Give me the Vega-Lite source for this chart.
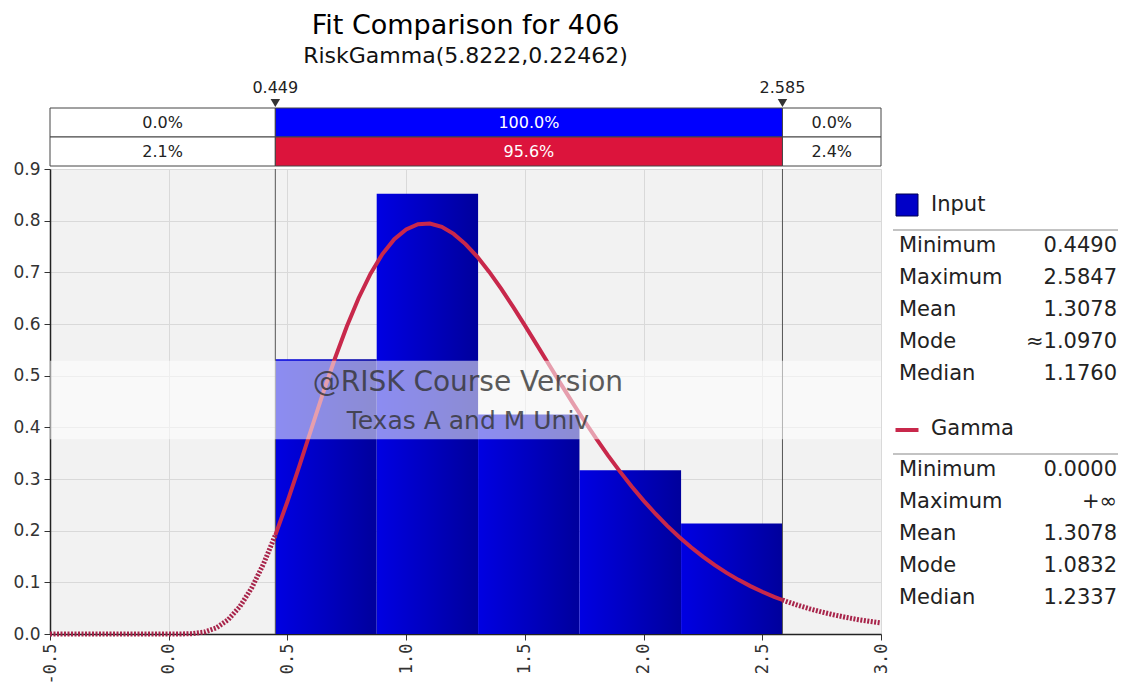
{
  "$schema": "https://vega.github.io/schema/vega-lite/v6.json",
  "width": 831,
  "height": 465,
  "autosize": "none",
  "padding": {"left": 50, "top": 169, "right": 244, "bottom": 54},
  "background": "white",
  "title": {
    "text": "Fit Comparison for 406",
    "subtitle": "RiskGamma(5.8222,0.22462)",
    "font": "DejaVu Sans",
    "fontSize": 27,
    "fontWeight": "normal",
    "color": "#000000",
    "subtitleFont": "DejaVu Sans",
    "subtitleFontSize": 22,
    "subtitleColor": "#111111",
    "subtitlePadding": 6,
    "anchor": "middle",
    "frame": "group",
    "offset": 12
  },
  "config": {
    "view": {"fill": "#f2f2f2", "stroke": null}
  },
  "layer": [
    {
      "layer": [
        {
          "data": {"values": [
            {"bin_start": 0.449, "bin_end": 0.876, "density": 0.532},
            {"bin_start": 0.876, "bin_end": 1.303, "density": 0.852},
            {"bin_start": 1.303, "bin_end": 1.730, "density": 0.425},
            {"bin_start": 1.730, "bin_end": 2.158, "density": 0.317},
            {"bin_start": 2.158, "bin_end": 2.585, "density": 0.214}
          ]},
          "mark": {
            "type": "rect",
            "fill": {
              "gradient": "linear", "x1": 0, "y1": 0, "x2": 1, "y2": 0,
              "stops": [
                {"offset": 0, "color": "#0000e2"},
                {"offset": 0.5, "color": "#0000c0"},
                {"offset": 1, "color": "#00009c"}
              ]
            }
          },
          "encoding": {
            "x": {
              "field": "bin_start", "type": "quantitative",
              "scale": {"domain": [-0.5, 3], "nice": false, "zero": false},
              "axis": {
                "values": [-0.5, 0, 0.5, 1, 1.5, 2, 2.5, 3],
                "format": ".1f",
                "labelExpr": "replace(datum.label, '\u2212', '-')",
                "labelAngle": 270,
                "labelFont": "DejaVu Sans Mono",
                "labelFontSize": 17,
                "labelColor": "#333333",
                "labelFlush": false,
                "labelOverlap": false,
                "labelPadding": 3,
                "tickColor": "#333333",
                "tickSize": 6,
                "domainColor": "#222222",
                "domainWidth": 1.5,
                "gridColor": "#d9d9d9",
                "title": null
              }
            },
            "x2": {"field": "bin_end"},
            "y": {
              "field": "density", "type": "quantitative",
              "scale": {"domain": [0, 0.9], "nice": false},
              "axis": {
                "values": [0, 0.1, 0.2, 0.3, 0.4, 0.5, 0.6, 0.7, 0.8, 0.9],
                "format": ".1f",
                "labelFont": "DejaVu Sans",
                "labelFontSize": 17,
                "labelColor": "#333333",
                "labelFlush": false,
                "labelOverlap": false,
                "labelPadding": 4,
                "tickColor": "#333333",
                "tickSize": 6,
                "domainColor": "#222222",
                "domainWidth": 1.5,
                "gridColor": "#d9d9d9",
                "title": null
              }
            },
            "y2": {"datum": 0}
          }
        },
        {
          "data": {"values": [
            {"value": 0.449, "label": "0.449"},
            {"value": 2.585, "label": "2.585"}
          ]},
          "mark": {"type": "rule", "color": "#555555", "strokeWidth": 1},
          "encoding": {
            "x": {"field": "value", "type": "quantitative"},
            "y": {"datum": 0, "type": "quantitative"},
            "y2": {"datum": 0.9}
          }
        },
        {
          "data": {"name": "curve"},
          "transform": [{"filter": "datum.part !== 'mid'"}],
          "mark": {"type": "line", "color": "#a8244a", "strokeWidth": 5, "strokeDash": [2, 1.5]},
          "encoding": {
            "x": {"field": "x", "type": "quantitative"},
            "y": {"field": "density", "type": "quantitative"},
            "detail": {"field": "part"}
          }
        },
        {
          "data": {"name": "curve"},
          "transform": [{"filter": "datum.part === 'mid'"}],
          "mark": {"type": "line", "color": "#c8284b", "strokeWidth": 4},
          "encoding": {
            "x": {"field": "x", "type": "quantitative"},
            "y": {"field": "density", "type": "quantitative"}
          }
        },
        {
          "data": {"values": [{}]},
          "mark": {"type": "rect", "fill": "#ffffff", "opacity": 0.55},
          "encoding": {
            "x": {"datum": -0.5, "type": "quantitative"},
            "x2": {"datum": 3},
            "y": {"datum": 0.377, "type": "quantitative"},
            "y2": {"datum": 0.529}
          }
        },
        {
          "data": {"values": [{}]},
          "mark": {"type": "text", "text": "@RISK Course Version", "font": "DejaVu Sans", "fontSize": 28, "color": "#333333", "opacity": 0.8},
          "encoding": {
            "x": {"datum": 1.26, "type": "quantitative"},
            "y": {"datum": 0.486, "type": "quantitative"}
          }
        },
        {
          "data": {"values": [{}]},
          "mark": {"type": "text", "text": "Texas A and M Univ", "font": "DejaVu Sans", "fontSize": 25, "color": "#333333", "opacity": 0.8},
          "encoding": {
            "x": {"datum": 1.26, "type": "quantitative"},
            "y": {"datum": 0.412, "type": "quantitative"}
          }
        }
      ]
    },
    {
      "layer": [
        {
          "data": {"name": "cells"},
          "mark": {"type": "rect", "stroke": "#444444", "strokeWidth": 1},
          "encoding": {
            "x": {"field": "start", "type": "quantitative", "scale": {"domain": [-0.5, 3], "nice": false, "zero": false}, "axis": null},
            "x2": {"field": "end"},
            "y": {"field": "row", "type": "nominal", "scale": {"type": "band", "domain": ["Input", "Fit"], "range": [-61, -3], "paddingInner": 0, "paddingOuter": 0}, "axis": null},
            "fill": {"field": "kind", "type": "nominal", "scale": {"domain": ["outside", "Input", "Fit"], "range": ["#ffffff", "#0000ff", "#dc143c"]}, "legend": null}
          }
        },
        {
          "data": {"name": "cells"},
          "transform": [{"fold": ["start", "end"], "as": ["edge", "pos"]}],
          "mark": {"type": "text", "font": "DejaVu Sans", "fontSize": 16},
          "encoding": {
            "x": {"aggregate": "mean", "field": "pos", "type": "quantitative"},
            "y": {"field": "row", "type": "nominal"},
            "text": {"field": "label"},
            "detail": [{"field": "kind"}, {"field": "side"}],
            "color": {"condition": {"test": "datum.kind !== 'outside'", "value": "#ffffff"}, "value": "#222222"}
          }
        },
        {
          "data": {"values": [
            {"value": 0.449, "label": "0.449"},
            {"value": 2.585, "label": "2.585"}
          ]},
          "mark": {"type": "text", "font": "DejaVu Sans", "fontSize": 16, "color": "#222222", "dy": -34.5},
          "encoding": {
            "x": {"field": "value", "type": "quantitative"},
            "y": {"datum": "Input", "type": "nominal"},
            "text": {"field": "label"}
          }
        },
        {
          "data": {"values": [
            {"value": 0.449, "label": "0.449"},
            {"value": 2.585, "label": "2.585"}
          ]},
          "mark": {"type": "point", "shape": "triangle-down", "filled": true, "color": "#333333", "size": 90, "opacity": 1, "yOffset": -19.5},
          "encoding": {
            "x": {"field": "value", "type": "quantitative"},
            "y": {"datum": "Input", "type": "nominal"}
          }
        }
      ]
    },
    {
      "layer": [
        {
          "data": {"values": [
            {"key": "Input", "name": "Input"},
            {"key": "Gamma", "name": "Gamma"}
          ]},
          "mark": {"type": "text", "align": "left", "dx": 32, "dy": -9, "font": "DejaVu Sans", "fontSize": 21, "color": "#222222"},
          "encoding": {
            "x": {"datum": 0, "type": "quantitative", "scale": {"domain": [0, 1], "range": [849, 1067]}, "axis": null},
            "y": {"field": "key", "type": "nominal", "scale": {"type": "point", "domain": ["Input", "I-Min", "I-Max", "I-Mean", "I-Mode", "I-Median", "gap", "Gamma", "G-Min", "G-Max", "G-Mean", "G-Mode", "G-Median"], "range": [45, 429], "padding": 0}, "axis": null},
            "text": {"field": "name"}
          }
        },
        {
          "data": {"values": [{"key": "Input"}]},
          "mark": {"type": "point", "shape": "square", "filled": true, "fill": "#0000c8", "stroke": "#000050", "strokeWidth": 1, "size": 484, "opacity": 1, "xOffset": 8, "yOffset": -9},
          "encoding": {
            "x": {"datum": 0, "type": "quantitative"},
            "y": {"field": "key", "type": "nominal"}
          }
        },
        {
          "data": {"values": [{"key": "Gamma"}]},
          "mark": {"type": "point", "shape": "M-1,0H1", "filled": false, "stroke": "#c8284b", "strokeWidth": 4, "size": 529, "opacity": 1, "xOffset": 8, "yOffset": -8},
          "encoding": {
            "x": {"datum": 0, "type": "quantitative"},
            "y": {"field": "key", "type": "nominal"}
          }
        },
        {
          "data": {"values": [{"key": "I-Min"}, {"key": "G-Min"}]},
          "mark": {"type": "rule", "color": "#888888", "strokeWidth": 1.2, "yOffset": -16, "xOffset": -6, "x2Offset": 1},
          "encoding": {
            "x": {"datum": 0, "type": "quantitative"},
            "x2": {"datum": 1},
            "y": {"field": "key", "type": "nominal"}
          }
        },
        {
          "data": {"name": "stats"},
          "mark": {"type": "text", "align": "left", "font": "DejaVu Sans", "fontSize": 21, "color": "#222222"},
          "encoding": {
            "x": {"datum": 0, "type": "quantitative"},
            "y": {"field": "key", "type": "nominal"},
            "text": {"field": "stat"}
          }
        },
        {
          "data": {"name": "stats"},
          "mark": {"type": "text", "align": "right", "font": "DejaVu Sans", "fontSize": 21, "color": "#222222"},
          "encoding": {
            "x": {"datum": 1, "type": "quantitative"},
            "y": {"field": "key", "type": "nominal"},
            "text": {"field": "value"}
          }
        }
      ]
    }
  ],
  "resolve": {
    "scale": {"x": "independent", "y": "independent", "fill": "independent", "color": "independent"},
    "axis": {"x": "independent", "y": "independent"}
  },
  "datasets": {
    "curve": [
      {"x": -0.5, "density": 0, "part": "left"},
      {"x": 0, "density": 0, "part": "left"},
      {"x": 0.05, "density": 0.00003, "part": "left"},
      {"x": 0.1, "density": 0.00065, "part": "left"},
      {"x": 0.15, "density": 0.0037, "part": "left"},
      {"x": 0.2, "density": 0.0118, "part": "left"},
      {"x": 0.25, "density": 0.0276, "part": "left"},
      {"x": 0.3, "density": 0.0532, "part": "left"},
      {"x": 0.35, "density": 0.0896, "part": "left"},
      {"x": 0.4, "density": 0.1365, "part": "left"},
      {"x": 0.449, "density": 0.1915, "part": "left"},
      {"x": 0.449, "density": 0.1915, "part": "mid"},
      {"x": 0.5, "density": 0.2564, "part": "mid"},
      {"x": 0.55, "density": 0.325, "part": "mid"},
      {"x": 0.6, "density": 0.3958, "part": "mid"},
      {"x": 0.65, "density": 0.466, "part": "mid"},
      {"x": 0.7, "density": 0.5332, "part": "mid"},
      {"x": 0.75, "density": 0.5952, "part": "mid"},
      {"x": 0.8, "density": 0.6504, "part": "mid"},
      {"x": 0.85, "density": 0.6974, "part": "mid"},
      {"x": 0.9, "density": 0.7354, "part": "mid"},
      {"x": 0.95, "density": 0.764, "part": "mid"},
      {"x": 1.0, "density": 0.7831, "part": "mid"},
      {"x": 1.05, "density": 0.7931, "part": "mid"},
      {"x": 1.1, "density": 0.7945, "part": "mid"},
      {"x": 1.15, "density": 0.788, "part": "mid"},
      {"x": 1.2, "density": 0.7744, "part": "mid"},
      {"x": 1.25, "density": 0.7547, "part": "mid"},
      {"x": 1.3, "density": 0.7299, "part": "mid"},
      {"x": 1.35, "density": 0.7008, "part": "mid"},
      {"x": 1.4, "density": 0.6685, "part": "mid"},
      {"x": 1.45, "density": 0.6338, "part": "mid"},
      {"x": 1.5, "density": 0.5974, "part": "mid"},
      {"x": 1.55, "density": 0.5601, "part": "mid"},
      {"x": 1.6, "density": 0.5225, "part": "mid"},
      {"x": 1.65, "density": 0.4851, "part": "mid"},
      {"x": 1.7, "density": 0.4484, "part": "mid"},
      {"x": 1.75, "density": 0.4128, "part": "mid"},
      {"x": 1.8, "density": 0.3785, "part": "mid"},
      {"x": 1.85, "density": 0.3458, "part": "mid"},
      {"x": 1.9, "density": 0.3147, "part": "mid"},
      {"x": 1.95, "density": 0.2855, "part": "mid"},
      {"x": 2.0, "density": 0.2582, "part": "mid"},
      {"x": 2.05, "density": 0.2328, "part": "mid"},
      {"x": 2.1, "density": 0.2093, "part": "mid"},
      {"x": 2.15, "density": 0.1877, "part": "mid"},
      {"x": 2.2, "density": 0.1679, "part": "mid"},
      {"x": 2.25, "density": 0.1497, "part": "mid"},
      {"x": 2.3, "density": 0.1333, "part": "mid"},
      {"x": 2.35, "density": 0.1183, "part": "mid"},
      {"x": 2.4, "density": 0.1048, "part": "mid"},
      {"x": 2.45, "density": 0.0927, "part": "mid"},
      {"x": 2.5, "density": 0.0818, "part": "mid"},
      {"x": 2.55, "density": 0.072, "part": "mid"},
      {"x": 2.585, "density": 0.0658, "part": "mid"},
      {"x": 2.585, "density": 0.0658, "part": "right"},
      {"x": 2.6, "density": 0.0633, "part": "right"},
      {"x": 2.65, "density": 0.0556, "part": "right"},
      {"x": 2.7, "density": 0.0487, "part": "right"},
      {"x": 2.75, "density": 0.0426, "part": "right"},
      {"x": 2.8, "density": 0.0372, "part": "right"},
      {"x": 2.85, "density": 0.0324, "part": "right"},
      {"x": 2.9, "density": 0.0282, "part": "right"},
      {"x": 2.95, "density": 0.0245, "part": "right"},
      {"x": 3.0, "density": 0.0213, "part": "right"}
    ],
    "cells": [
      {"row": "Input", "side": "left", "start": -0.5, "end": 0.449, "label": "0.0%", "kind": "outside"},
      {"row": "Input", "side": "mid", "start": 0.449, "end": 2.585, "label": "100.0%", "kind": "Input"},
      {"row": "Input", "side": "right", "start": 2.585, "end": 3.0, "label": "0.0%", "kind": "outside"},
      {"row": "Fit", "side": "left", "start": -0.5, "end": 0.449, "label": "2.1%", "kind": "outside"},
      {"row": "Fit", "side": "mid", "start": 0.449, "end": 2.585, "label": "95.6%", "kind": "Fit"},
      {"row": "Fit", "side": "right", "start": 2.585, "end": 3.0, "label": "2.4%", "kind": "outside"}
    ],
    "stats": [
      {"key": "I-Min", "stat": "Minimum", "value": "0.4490"},
      {"key": "I-Max", "stat": "Maximum", "value": "2.5847"},
      {"key": "I-Mean", "stat": "Mean", "value": "1.3078"},
      {"key": "I-Mode", "stat": "Mode", "value": "\u22481.0970"},
      {"key": "I-Median", "stat": "Median", "value": "1.1760"},
      {"key": "G-Min", "stat": "Minimum", "value": "0.0000"},
      {"key": "G-Max", "stat": "Maximum", "value": "+\u221e"},
      {"key": "G-Mean", "stat": "Mean", "value": "1.3078"},
      {"key": "G-Mode", "stat": "Mode", "value": "1.0832"},
      {"key": "G-Median", "stat": "Median", "value": "1.2337"}
    ]
  }
}
